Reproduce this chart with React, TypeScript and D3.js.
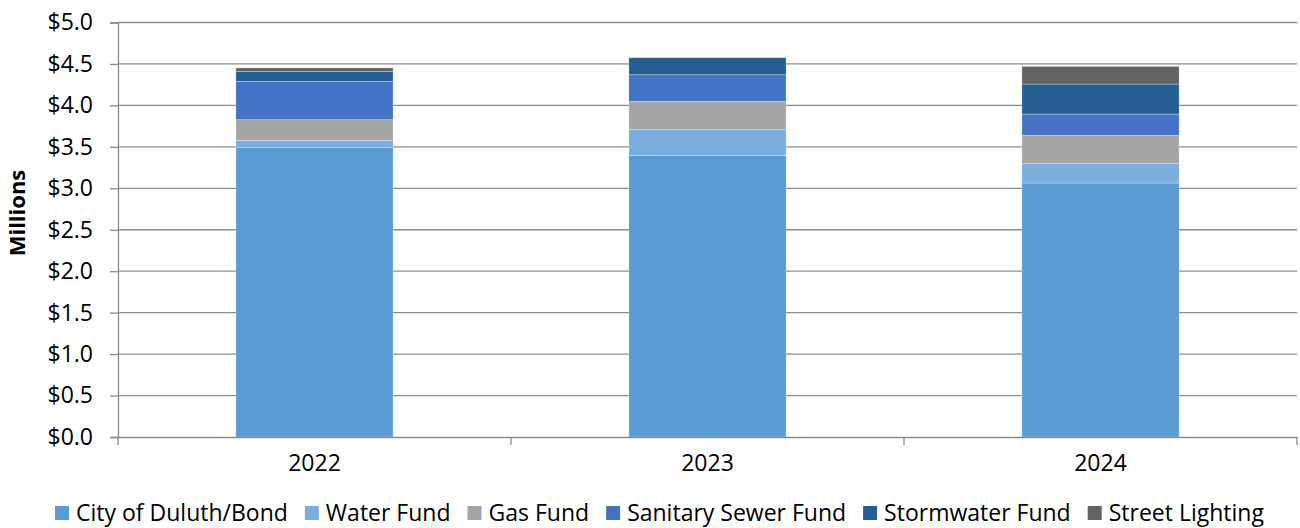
import * as d3 from "d3";
import {useEffect, useRef} from "react";

const years = ["2022", "2023", "2024"];
const seriesNames = ["City of Duluth/Bond", "Water Fund", "Gas Fund", "Sanitary Sewer Fund", "Stormwater Fund", "Street Lighting"];
const cityBond = [3.494, 3.394, 3.064];
const waterFund = [0.084, 0.313, 0.233];
const gasFund = [0.250, 0.341, 0.342];
const sanitarySewer = [0.463, 0.322, 0.256];
const stormwater = [0.117, 0.205, 0.362];
const streetLighting = [0.044, 0, 0.213];
const colors = ["#5b9bd5", "#7aaedf", "#a5a5a5", "#4472c4", "#255e91", "#636363"];
const yTicks = [0, 0.5, 1, 1.5, 2, 2.5, 3, 3.5, 4, 4.5, 5];

export default function App() {
    const svgRef = useRef(null);
    const width = 1300;
    const height = 528;
    const margin = {top: 22.5, right: 3, bottom: 91, left: 118};

    useEffect(() => {
        if (!svgRef.current) return;
        const svg = d3.select(svgRef.current);
        svg.selectAll("*").remove();

        const font = "'Open Sans', sans-serif";
        const allSeries = [cityBond, waterFund, gasFund, sanitarySewer, stormwater, streetLighting];

        // rows for the stack, one per year
        const rows = years.map((y, i) => {
            const r: any = {year: y};
            seriesNames.forEach((s, k) => r[s] = allSeries[k][i]);
            return r;
        });
        const stacked = d3.stack().keys(seriesNames)(rows);

        const x = d3.scaleBand()
            .domain(years)
            .range([margin.left, width - margin.right])
            .paddingInner(0.6)
            .paddingOuter(0.3);
        const y = d3.scaleLinear()
            .domain([0, 5])
            .range([height - margin.bottom, margin.top]);

        const grid = "#8c8c8c";

        // horizontal gridlines
        svg.append("g")
            .selectAll("line")
            .data(yTicks.slice(1))
            .join("line")
            .attr("x1", margin.left)
            .attr("x2", width - margin.right)
            .attr("y1", d => y(d))
            .attr("y2", d => y(d))
            .attr("stroke", grid)
            .attr("stroke-width", 1.3);

        // bars
        svg.append("g")
            .selectAll("g")
            .data(stacked)
            .join("g")
            .attr("fill", (_d, i) => colors[i])
            .selectAll("rect")
            .data(d => d)
            .join("rect")
            .attr("x", d => x(d.data.year)!)
            .attr("width", x.bandwidth())
            .attr("y", d => y(d[1]))
            .attr("height", d => Math.max(0, y(d[0]) - y(d[1])))
            .attr("stroke", "rgba(255,255,255,0.35)")
            .attr("stroke-width", d => (d[1] - d[0]) > 0 ? 0.8 : 0);

        // y axis
        const yAxis = svg.append("g")
            .attr("transform", `translate(${margin.left},0)`)
            .call(d3.axisLeft(y).tickValues(yTicks).tickSize(8).tickPadding(17)
                .tickFormat(d => `$${(+d).toFixed(1)}`));
        yAxis.select(".domain").attr("stroke", grid).attr("stroke-width", 1.3);
        yAxis.selectAll(".tick line").attr("stroke", grid).attr("stroke-width", 1.3);
        yAxis.selectAll("text")
            .attr("font-family", font)
            .attr("font-size", 23)
            .attr("fill", "#000");

        // x axis
        const xAxis = svg.append("g")
            .attr("transform", `translate(0,${height - margin.bottom})`)
            .call(d3.axisBottom(x).tickSize(0).tickPadding(18));
        xAxis.select(".domain").attr("stroke", grid).attr("stroke-width", 1.3);
        xAxis.selectAll("text")
            .attr("font-family", font)
            .attr("font-size", 23)
            .attr("fill", "#000");
        // category separator ticks
        const step = x.step();
        const boundaries = d3.range(years.length + 1).map(i => margin.left + i * step);
        svg.append("g")
            .selectAll("line")
            .data(boundaries)
            .join("line")
            .attr("x1", d => d)
            .attr("x2", d => d)
            .attr("y1", height - margin.bottom)
            .attr("y2", height - margin.bottom + 8)
            .attr("stroke", grid)
            .attr("stroke-width", 1.3);

        // y title
        svg.append("text")
            .attr("transform", `translate(25,213) rotate(-90)`)
            .attr("text-anchor", "middle")
            .attr("font-family", font)
            .attr("font-size", 22)
            .attr("font-weight", "bold")
            .text("Millions");

        // legend
        const legend = svg.append("g").attr("transform", `translate(55,513)`);
        let cx = 0;
        seriesNames.forEach((s, i) => {
            const g = legend.append("g").attr("transform", `translate(${cx},0)`);
            g.append("rect")
                .attr("x", 0)
                .attr("y", -7)
                .attr("width", 14)
                .attr("height", 14)
                .attr("fill", colors[i]);
            const t = g.append("text")
                .attr("x", 21)
                .attr("y", 0)
                .attr("dy", "0.36em")
                .attr("font-family", font)
                .attr("font-size", 23)
                .attr("fill", "#000")
                .text(s);
            const w = (t.node() as SVGTextElement).getComputedTextLength();
            cx += 21 + w + 17;
        });
    }, []);

    return (
        <div style={{position: "absolute", left: 0, top: 0}}>
            <svg ref={svgRef} width={width} height={height} style={{display: "block", background: "#fff"}}></svg>
        </div>
    );
}
